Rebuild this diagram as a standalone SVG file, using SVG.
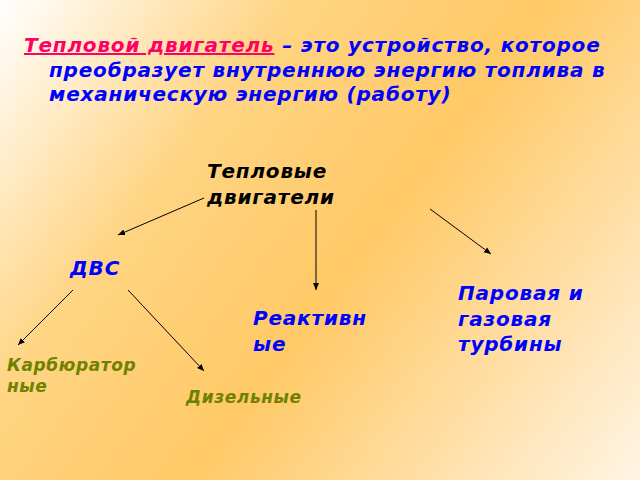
<svg xmlns="http://www.w3.org/2000/svg" width="640" height="480" viewBox="0 0 640 480">
<defs>
<linearGradient id="bg" x1="0" y1="0" x2="640" y2="480" gradientUnits="userSpaceOnUse">
<stop offset="0" stop-color="#FFFFFF"/>
<stop offset="0.3" stop-color="#FFD482"/>
<stop offset="0.55" stop-color="#FFC966"/>
<stop offset="1" stop-color="#FFF4E4"/>
</linearGradient>
<marker id="ah" markerWidth="8" markerHeight="8" refX="7" refY="4" orient="auto" markerUnits="userSpaceOnUse">
<path d="M0,1 L7,4 L0,7 Z" fill="#000"/>
</marker>
<style>
text{font-family:"DejaVu Sans","Noto Sans",sans-serif;font-weight:bold;font-style:italic}
.t{font-size:20px;letter-spacing:0.8px}
.s{font-size:17px;letter-spacing:0.6px;fill:#6E8200}
.b{fill:#0000FF}
.c line{stroke:#000;stroke-width:1;marker-end:url(#ah)}
</style>
</defs>
<rect width="640" height="480" fill="url(#bg)"/>
<g id="title" class="t">
<text x="24" y="52"><tspan fill="#FF0066" text-decoration="underline">Тепловой двигатель</tspan><tspan fill="#0000FF"> – это устройство, которое</tspan></text>
<text x="49" y="77" fill="#0000FF">преобразует внутреннюю энергию топлива в</text>
<text x="49" y="101" fill="#0000FF">механическую энергию (работу)</text>
</g>
<g id="root" class="t"><text x="207" y="178">Тепловые</text><text x="207" y="204">двигатели</text></g>
<g id="dvs" class="t b"><text x="70" y="275">ДВС</text></g>
<g id="react" class="t b"><text x="253" y="325">Реактивн</text><text x="253" y="351">ые</text></g>
<g id="turb" class="t b"><text x="458" y="300">Паровая и</text><text x="458" y="326">газовая</text><text x="458" y="351">турбины</text></g>
<g id="karb" class="s"><text x="7" y="371">Карбюратор</text><text x="7" y="392">ные</text></g>
<g id="diz" class="s"><text x="186" y="403">Дизельные</text></g>
<g id="connectors" class="c">
<line x1="204" y1="198" x2="118" y2="235"/>
<line x1="316" y1="210" x2="316" y2="290"/>
<line x1="430" y1="209" x2="491" y2="254"/>
<line x1="73" y1="290" x2="18" y2="345"/>
<line x1="128" y1="290" x2="204" y2="371"/>
</g>
</svg>
